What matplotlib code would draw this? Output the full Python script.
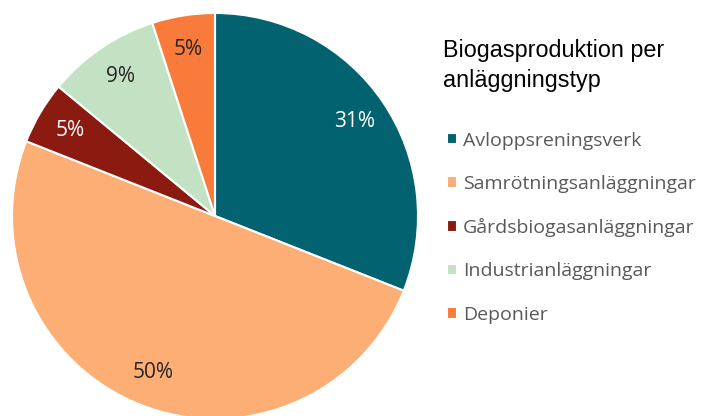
import matplotlib.pyplot as plt

labels = ['Avloppsreningsverk', 'Samrötningsanläggningar', 'Gårdsbiogasanläggningar',
          'Industrianläggningar', 'Deponier']
shares = [31, 50, 5, 9, 5]
colors = ['#03626f', '#fcae74', '#8b1a10', '#c3e2c4', '#f87b3c']
text_colors = ['white', '#262626', 'white', '#262626', '#262626']

fig = plt.figure(figsize=(7.05, 4.16), dpi=100)
# pie centre ~ (215, 216) px, radius ~203 px
ax = fig.add_axes([12 / 705, (416 - 216 - 203) / 416, 406 / 705, 406 / 416])

wedges, texts, autotexts = ax.pie(
    shares, colors=colors, startangle=90, counterclock=False,
    autopct='%d%%', pctdistance=0.83,
    wedgeprops=dict(edgecolor='white', linewidth=1.5),
    textprops=dict(fontsize=15, family='Open Sans'))
for t, c in zip(autotexts, text_colors):
    t.set_color(c)
ax.set_xlim(-1, 1)
ax.set_ylim(-1, 1)
ax.set_aspect('equal')
ax.axis('off')

fig.text(443 / 705, 1 - 39 / 416, 'Biogasproduktion per\nanläggningstyp',
         fontsize=16.8, family='Liberation Sans', color='black',
         va='top', ha='left', linespacing=1.38)

leg = fig.legend(wedges, labels, loc='upper left', bbox_to_anchor=(429 / 705, 1 - 114 / 416),
                 frameon=False, handlelength=0.55, handleheight=0.55, handletextpad=0.3,
                 labelspacing=1.3, prop=dict(family='Open Sans', size=14))
for t in leg.get_texts():
    t.set_color('#595959')

fig.savefig('out.png', dpi=100)
